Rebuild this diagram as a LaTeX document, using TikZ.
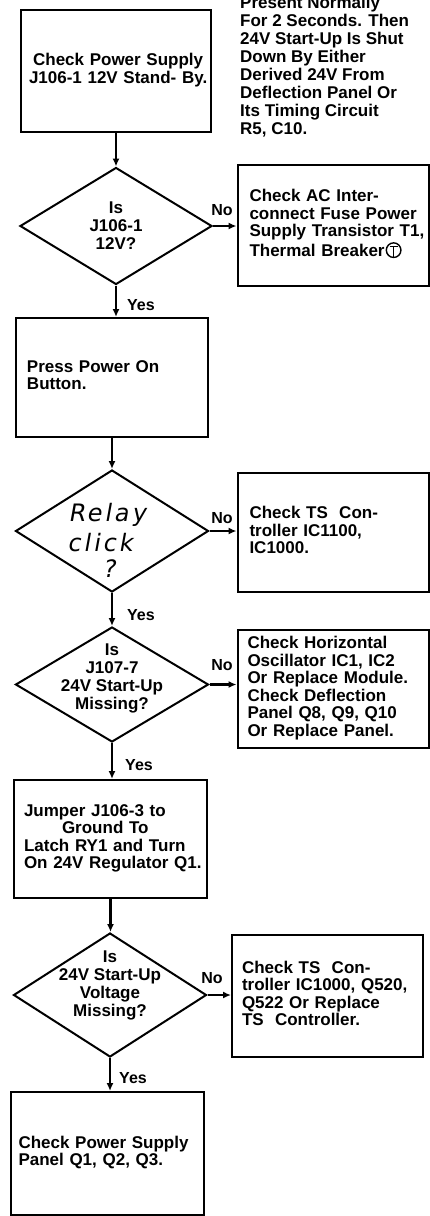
\documentclass[tikz,border=0pt]{standalone}
\usepackage{fontspec}
\setmainfont{Liberation Sans}
\newfontfamily\hand[LetterSpace=12,FakeSlant=0.18]{DejaVu Sans}
\usetikzlibrary{shapes.geometric,arrows.meta,calc}
\newcommand\mytab[1]{\begin{tabular}{@{}l@{}}#1\end{tabular}}
\newcommand\mytabc[1]{\begin{tabular}{@{}c@{}}#1\end{tabular}}
\newcommand\circT{\hspace{1pt}\raisebox{-2pt}{\tikz[x=1pt,y=1pt]{\draw[line width=1.4pt] (0,0) circle (7.3pt);
 \draw[line width=1.6pt] (-4,3.5) -- (4,3.5) (0,3.5) -- (0,-7.3);}}}
\begin{document}
\begin{tikzpicture}[x=1pt,y=-1pt,
  every node/.style={font=\fontsize{17}{17.5}\selectfont\bfseries},
  box/.style={draw,line width=2pt,rectangle,inner ysep=0pt,align=left},
  dia/.style={draw,line width=2pt,diamond,inner sep=0pt},
  dtext/.style={align=center,inner sep=0pt,font=\fontsize{17}{18}\selectfont\bfseries},
  hw/.style={inner sep=0pt,font=\fontsize{24}{26}\selectfont\hand},
  flow/.style={line width=2.2pt,-{Latex[length=8pt,width=7pt]}},
  lbl/.style={inner sep=0pt,font=\fontsize{16}{17}\selectfont\bfseries}]
\fill[white] (0,0) rectangle (430,1216);
\useasboundingbox (0,0) rectangle (430,1216);

% top-right note (partly cut off at the top, as in the reference)
\begin{scope}
\clip (0,0) rectangle (430,1216);
\node[anchor=north west,inner sep=0pt,align=left,font=\fontsize{17}{18}\selectfont\bfseries] (note) at (240,-4)
 {Present Normally\\For 2 Seconds. Then\\24V Start-Up Is Shut\\Down By Either\\Derived 24V From\\Deflection Panel Or\\Its Timing Circuit\\R5, C10.};
\end{scope}

% boxes
\node[box,align=center,minimum width=190pt,minimum height=122pt,text width=174pt,inner xsep=8pt] (b1) at (116,71)
 {\mytabc{Check Power Supply\\J106-1 12V Stand- By.}};
\node[box,minimum width=191pt,minimum height=121pt,text width=167pt,inner xsep=12pt] (b2) at (333,225.5)
 {\mytab{Check AC Inter-\\connect Fuse Power\\Supply Transistor T1,\\Thermal Breaker\circT}};
\node[box,minimum width=192pt,minimum height=119pt,text width=170pt,inner xsep=11pt] (b3) at (112,377.5)
 {\mytab{Press Power On\\Button.}};
\node[box,minimum width=191pt,minimum height=119pt,text width=167pt,inner xsep=12pt] (b4) at (333,532.5)
 {\mytab{Check TS\ \ Con-\\troller IC1100,\\IC1000.}};
\node[box,minimum width=191pt,minimum height=118pt,text width=171pt,inner xsep=10pt] (b5) at (333,689)
 {\mytab{Check Horizontal\\Oscillator IC1, IC2\\Or Replace Module.\\Check Deflection\\Panel Q8, Q9, Q10\\Or Replace Panel.}};
\node[box,minimum width=193pt,minimum height=118pt,text width=173pt,inner xsep=10pt] (b6) at (110.5,839)
 {\mytab{Jumper J106-3 to\\\hspace*{38pt}Ground To\\Latch RY1 and Turn\\On 24V Regulator Q1.}};
\node[box,minimum width=191pt,minimum height=122pt,text width=171pt,inner xsep=10pt] (b7) at (327.5,996)
 {\mytab{Check TS\ \ Con-\\troller IC1000, Q520,\\Q522 Or Replace\\TS\ \ Controller.}};
\node[box,minimum width=193pt,minimum height=123pt,text width=177pt,inner xsep=8pt] (b8) at (107,1153.5)
 {\mytab{Check Power Supply\\Panel Q1, Q2, Q3.}};

% decisions
\node[dia,minimum width=192pt,minimum height=117pt] (d1) at (116,226) {};
\node[dtext] (t1) at (116,226) {Is\\J106-1\\12V?};
\node[dia,minimum width=193pt,minimum height=122pt] (d2) at (112,531) {};
\node[hw] (t2a) at (107,515) {Relay};
\node[hw] (t2b) at (100,543) {click};
\node[hw] (t2c) at (109,569) {?};
\node[dia,minimum width=193pt,minimum height=115pt] (d3) at (112,684.5) {};
\node[dtext] (t3) at (112,678) {Is\\J107-7\\24V Start-Up\\Missing?};
\node[dia,minimum width=193pt,minimum height=124pt] (d4) at (110,995) {};
\node[dtext] (t4) at (110,985) {Is\\24V Start-Up\\Voltage\\Missing?};

% connectors
\draw[flow] (b1.south) -- (d1.north);
\draw[flow] (d1.east) -- (d1.east -| b2.west);
\draw[flow] (d1.south) -- (b3.north -| d1.south);
\draw[flow] (b3.south) -- (d2.north);
\draw[flow] (d2.east) -- (d2.east -| b4.west);
\draw[flow] (d2.south) -- (d3.north);
\draw[flow] (d3.east) -- (d3.east -| b5.west);
\draw[flow] (d3.south) -- (d3.south |- b6.north);
\draw[flow] (b6.south) -- (b6.south |- d4.north);
\draw[flow] (d4.east) -- (d4.east -| b7.west);
\draw[flow] (d4.south) -- (d4.south |- b8.north);

% labels
\node[lbl] (no1) at (222,210) {No};
\node[lbl] (no2) at (222,518) {No};
\node[lbl] (no3) at (222,665) {No};
\node[lbl] (no4) at (212,978) {No};
\node[lbl] (y1) at (141,305) {Yes};
\node[lbl] (y2) at (141,615) {Yes};
\node[lbl] (y3) at (139,765) {Yes};
\node[lbl] (y4) at (133,1078) {Yes};
\end{tikzpicture}
\end{document}
